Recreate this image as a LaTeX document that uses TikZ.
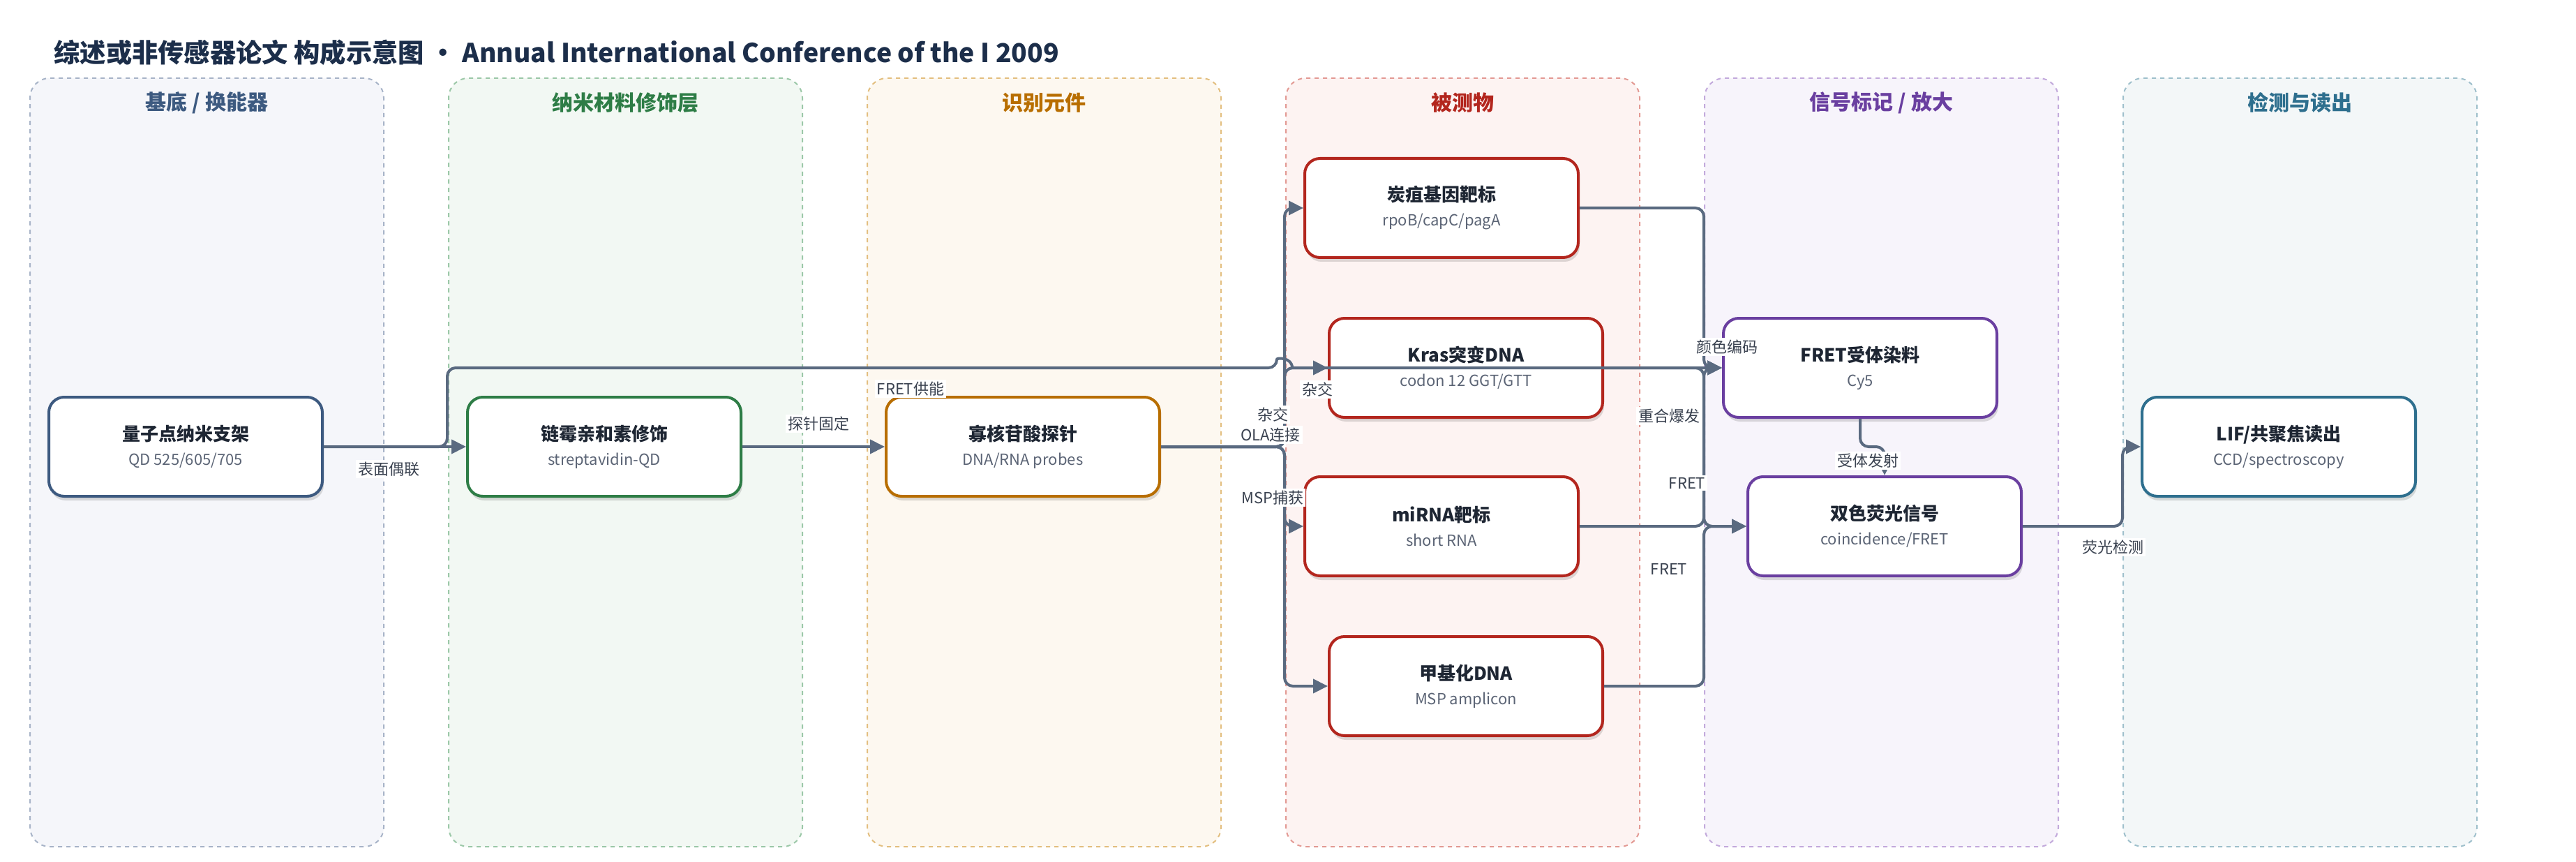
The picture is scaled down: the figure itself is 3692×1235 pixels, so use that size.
\documentclass[tikz,border=0pt]{standalone}
\usepackage{fontspec}
\setmainfont{Noto Sans CJK SC}
\usetikzlibrary{arrows.meta,shadows}
\definecolor{titlec}{HTML}{1C2E4A}
\definecolor{edgec}{HTML}{5A6A80}
\definecolor{lblc}{HTML}{3A4250}
\definecolor{ntc}{HTML}{1E2633}
\definecolor{subc}{HTML}{5B6475}
\definecolor{lAf}{HTML}{F5F6FA}\definecolor{lAd}{HTML}{A8B4C8}\definecolor{lAt}{HTML}{3D5A80}
\definecolor{lBf}{HTML}{F2F8F3}\definecolor{lBd}{HTML}{9CC8A8}\definecolor{lBt}{HTML}{2E7D46}
\definecolor{lCf}{HTML}{FDF8F0}\definecolor{lCd}{HTML}{E3BF80}\definecolor{lCt}{HTML}{B86E00}
\definecolor{lDf}{HTML}{FDF3F2}\definecolor{lDd}{HTML}{E39A94}\definecolor{lDt}{HTML}{B3261E}
\definecolor{lEf}{HTML}{F7F4FB}\definecolor{lEd}{HTML}{C3AADC}\definecolor{lEt}{HTML}{6A3FA0}
\definecolor{lFf}{HTML}{F3F7F8}\definecolor{lFd}{HTML}{9FC0CC}\definecolor{lFt}{HTML}{2E6F8E}
\newcommand{\mkbox}[2]{{\fontsize{13}{15}\selectfont\bfseries\color{ntc}#1}\\[5.5pt]{\fontsize{11}{12}\selectfont\color{subc}#2}}
\begin{document}
\begin{tikzpicture}[x=0.5pt,y=-0.5pt,
  lane/.style={dash pattern=on 3pt off 3pt, line width=1pt, rounded corners=14pt,
    minimum width=253.5pt, minimum height=550.5pt, inner sep=0pt},
  lanetitle/.style={font=\fontsize{15}{18}\selectfont\bfseries},
  box/.style={draw, line width=2pt, rounded corners=11pt, fill=white,
    minimum width=196pt, minimum height=71pt, align=center, inner sep=0pt,
    drop shadow={shadow xshift=1pt,shadow yshift=-3pt,opacity=0.13,fill=black}},
  edge/.style={draw=edgec, line width=2pt, rounded corners=6pt},
  arr/.style={-{Triangle[length=10.5pt,width=10pt]}},
  lbl/.style={fill=white, inner sep=1.5pt, text=lblc, font=\fontsize{11}{13}\selectfont}
]
\useasboundingbox (0,0) rectangle (3692,1235);
\fill[white] (0,0) rectangle (3692,1235);
% title
\node[anchor=west, inner sep=0pt, text=titlec, font=\fontsize{18.65}{22}\selectfont\bfseries] (title) at (77,75)
  {综述或非传感器论文 构成示意图 • Annual International Conference of the I 2009};
% lanes
\node[lane, draw=lAd, fill=lAf] (laneA) at (296.5,662.5) {};
\node[lane, draw=lBd, fill=lBf] (laneB) at (896.5,662.5) {};
\node[lane, draw=lCd, fill=lCf] (laneC) at (1496.5,662.5) {};
\node[lane, draw=lDd, fill=lDf] (laneD) at (2096.5,662.5) {};
\node[lane, draw=lEd, fill=lEf] (laneE) at (2696.5,662.5) {};
\node[lane, draw=lFd, fill=lFf] (laneF) at (3296.5,662.5) {};
\node[lanetitle, text=lAt] (tA) at (296.5,147) {基底 / 换能器};
\node[lanetitle, text=lBt] (tB) at (896.5,147) {纳米材料修饰层};
\node[lanetitle, text=lCt] (tC) at (1496.5,147) {识别元件};
\node[lanetitle, text=lDt] (tD) at (2096.5,147) {被测物};
\node[lanetitle, text=lEt] (tE) at (2696.5,147) {信号标记 / 放大};
\node[lanetitle, text=lFt] (tF) at (3296.5,147) {检测与读出};
% nodes
\node[box, draw=lAt] (n1) at (266,640) {\mkbox{量子点纳米支架}{QD 525/605/705}};
\node[box, draw=lBt] (n2) at (866,640) {\mkbox{链霉亲和素修饰}{streptavidin-QD}};
\node[box, draw=lCt] (n3) at (1466,640) {\mkbox{寡核苷酸探针}{DNA/RNA probes}};
\node[box, draw=lDt] (a1) at (2066,298) {\mkbox{炭疽基因靶标}{rpoB/capC/pagA}};
\node[box, draw=lDt] (a2) at (2101,527) {\mkbox{Kras突变DNA}{codon 12 GGT/GTT}};
\node[box, draw=lDt] (a3) at (2066,754) {\mkbox{miRNA靶标}{short RNA}};
\node[box, draw=lDt] (a4) at (2101,983) {\mkbox{甲基化DNA}{MSP amplicon}};
\node[box, draw=lEt] (s1) at (2666,527) {\mkbox{FRET受体染料}{Cy5}};
\node[box, draw=lEt] (s2) at (2701,754) {\mkbox{双色荧光信号}{coincidence/FRET}};
\node[box, draw=lFt] (d1) at (3266,640) {\mkbox{LIF/共聚焦读出}{CCD/spectroscopy}};
% edges
\draw[edge, arr] (n1.east) -- (n2.west);
\draw[edge, arr] (n2.east) -- (n3.west);
\draw[edge, arr] (n3.east) -- (1841,640) |- (a1.west);
\draw[edge, arr] (n3.east) -- (1841,640) |- (a2.west);
\draw[edge, arr] (n3.east) -- (1841,640) |- (a3.west);
\draw[edge, arr] (n3.east) -- (1841,640) |- (a4.west);
\draw[edge, arr] (n1.east) -- (641,640) -- (641,527) -- (1830,527) [sharp corners]
  .. controls (1830,512) and (1852,512) .. (1852,527) -- (s1.west);
\draw[edge, arr] (a1.east) -- (2442,298) |- (s1.west);
\draw[edge, arr] (a3.east) -- (2442,754) |- (s1.west);
\draw[edge, arr] (a2.east) -- (2442,527) |- (s2.west);
\draw[edge, arr] (a4.east) -- (2442,983) |- (s2.west);
\draw[edge, arr] (s1.south) -- (2666,640) -- (2701,640) -- (s2.north);
\draw[edge, arr] (s2.east) -- (3042,754) |- (d1.west);
% labels
\node[lbl] (l1) at (557,672) {表面偶联};
\node[lbl] (l2) at (1173,607) {探针固定};
\node[lbl] (l3) at (1305,557) {FRET供能};
\node[lbl] (l4) at (1824,594) {杂交};
\node[lbl] (l5) at (1821,623) {OLA连接};
\node[lbl] (l6) at (1888,558) {杂交};
\node[lbl] (l7) at (1824,713) {MSP捕获};
\node[lbl] (l8) at (2475,497) {颜色编码};
\node[lbl] (l9) at (2392,596) {重合爆发};
\node[lbl] (l10) at (2418,692) {FRET};
\node[lbl] (l11) at (2392,815) {FRET};
\node[lbl] (l12) at (2677,660) {受体发射};
\node[lbl] (l13) at (3028,784) {荧光检测};
\end{tikzpicture}
\end{document}
